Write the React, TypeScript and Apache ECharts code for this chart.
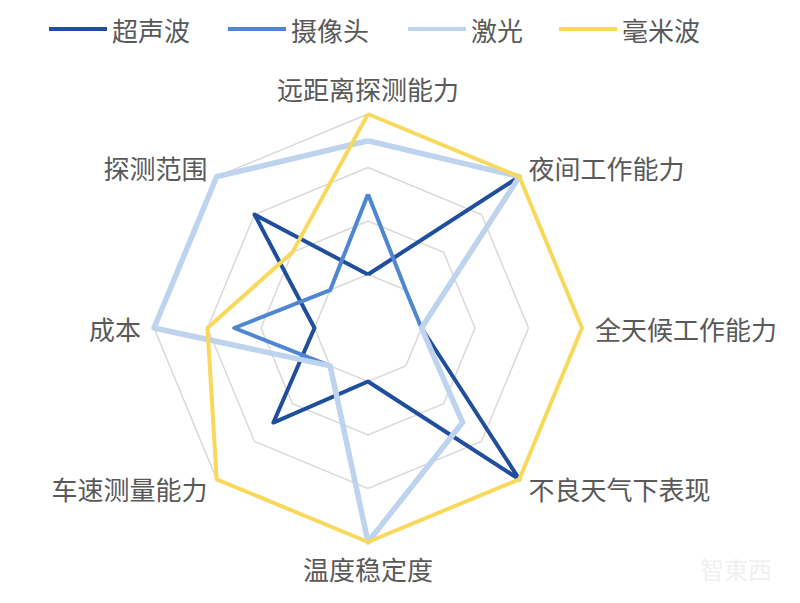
import React, { useEffect, useRef } from "react";
import * as echarts from "echarts";

// Indicators in clockwise order starting from the top
const categories = [
  "远距离探测能力",
  "夜间工作能力",
  "全天候工作能力",
  "不良天气下表现",
  "温度稳定度",
  "车速测量能力",
  "成本",
  "探测范围",
];

const seriesNames = ["超声波", "摄像头", "激光", "毫米波"];

const ultrasonic = [1, 4, 1, 4, 1, 2.5, 1, 3];
const camera = [2.5, 1, 1, 2.5, 4, 1, 2.5, 1];
const lidar = [3.5, 4, 1, 2.5, 4, 1, 4, 4];
const mmWave = [4, 4, 4, 4, 4, 4, 3, 2];

const axisMax = 4;

const colors = ["#1f4e9c", "#4f86d2", "#bdd3ee", "#f9d95c"];
const widths = [4, 4, 5.5, 4];

export default function App() {
  const ref = useRef<HTMLDivElement>(null);

  useEffect(() => {
    if (!ref.current) return;
    const chart = echarts.init(ref.current, undefined, { renderer: "svg" });
    // ECharts lays indicators out counter-clockwise; reorder to draw clockwise
    const order = [0, 7, 6, 5, 4, 3, 2, 1];
    const indicator = order.map((i) => ({ name: categories[i], max: axisMax, min: 0 }));
    const allData = [ultrasonic, camera, lidar, mmWave];
    const legendLefts = [44, 223, 403, 554];
    const font = '"Noto Sans CJK SC", sans-serif';

    chart.setOption({
      animation: false,
      backgroundColor: "#ffffff",
      legend: seriesNames.map((n, i) => ({
        data: [n],
        left: legendLefts[i],
        top: 11,
        icon: "rect",
        itemWidth: 58,
        itemHeight: 4,
        itemGap: 0,
        textStyle: { fontSize: 26, color: "#595959", fontFamily: font },
      })),
      graphic: [
        {
          type: "text",
          left: 700,
          top: 556,
          style: {
            text: "智東西",
            fontSize: 24,
            fill: "#f0f0f0",
            fontFamily: font,
          },
        },
      ],
      radar: {
        center: [368, 328],
        radius: 214,
        splitNumber: 4,
        shape: "polygon",
        indicator,
        nameGap: 13,
        axisName: { color: "#595959", fontSize: 26, fontFamily: font },
        axisLine: { show: false },
        axisTick: { show: false },
        axisLabel: { show: false },
        splitArea: { show: false },
        splitLine: { lineStyle: { color: "#d9d9d9", width: 1.5 } },
      },
      series: [
        {
          type: "radar",
          symbol: "none",
          data: allData.map((arr, k) => ({
            name: seriesNames[k],
            value: order.map((i) => arr[i]),
            lineStyle: { color: colors[k], width: widths[k] },
            itemStyle: { color: colors[k] },
          })),
        },
      ],
    });
    return () => chart.dispose();
  }, []);

  return (
    <div
      ref={ref}
      style={{ position: "fixed", left: 0, top: 0, width: 800, height: 603 }}
    />
  );
}
